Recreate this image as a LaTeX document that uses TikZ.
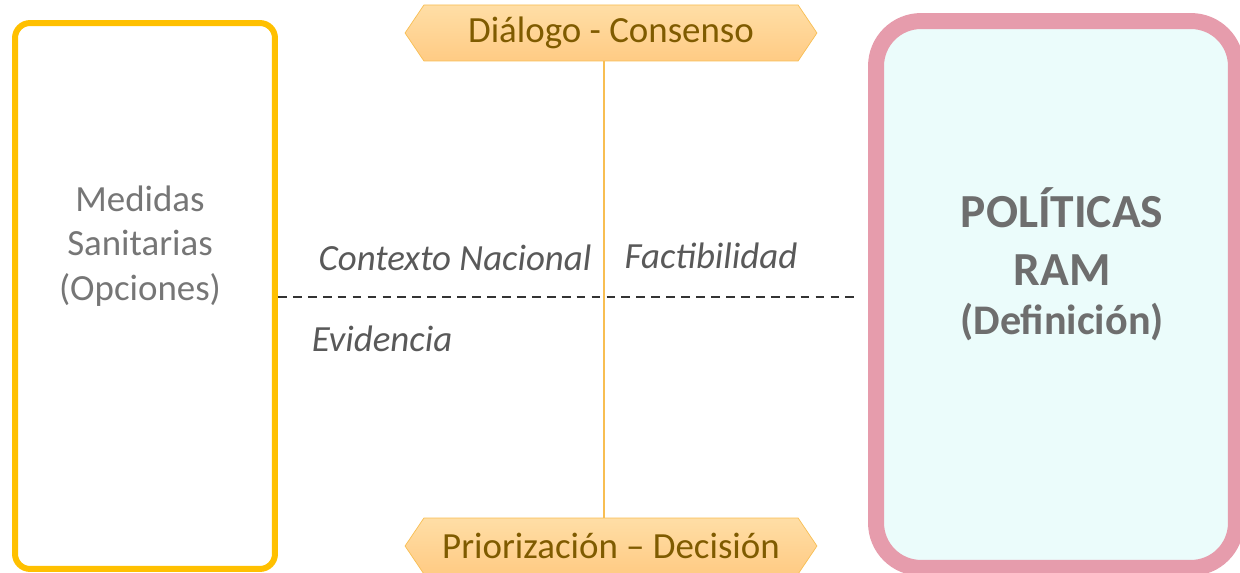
\documentclass[tikz,border=0pt]{standalone}
\usepackage{fontspec}
\setmainfont{Carlito}
\usetikzlibrary{shapes.symbols}
\definecolor{amarillo}{HTML}{FFC000}
\definecolor{rosa}{HTML}{E69CAC}
\definecolor{celeste}{HTML}{EBFCFB}
\definecolor{naranja}{HTML}{F8BE52}
\definecolor{marron}{HTML}{7F5B00}
\definecolor{gris}{HTML}{767676}
\tikzset{
  etapa/.style={signal, signal to=west and east, signal pointer angle=112,
    draw=naranja, top color={rgb,255:red,255;green,222;blue,166}, bottom color={rgb,255:red,255;green,203;blue,132},
    minimum width=8.24cm, minimum height=1.12cm, inner sep=0pt,
    text=marron, font=\fontsize{21}{25}\selectfont},
  criterio/.style={text=black!65, font=\itshape\fontsize{21}{25}\selectfont}
}
\begin{document}
\begin{tikzpicture}[x=0.02cm, y=-0.02cm]
            \useasboundingbox (0,0) rectangle (1240,573);
            % cajas laterales
            \node[draw=amarillo, line width=0.12cm, rounded corners=0.3cm, inner sep=0pt,
                minimum width=5.2cm, minimum height=10.92cm] (opciones) at (145,296) {};
            \node[draw=rosa, fill=celeste, line width=0.32cm, rounded corners=0.9cm, inner sep=0pt,
                minimum width=7.2cm, minimum height=10.94cm] (ram) at (1056,294.5) {};

            \node[align=center, text=gris, font=\fontsize{21}{25.5}\selectfont] (medidas) at (140,246)
                {Medidas\\Sanitarias\\(Opciones)};
            \node[align=center, text=black!57, font=\bfseries\fontsize{27}{33}\selectfont] (politicas) at (1062,237)
                {POLÍTICAS\\RAM};
            \node[text=black!57, font=\bfseries\fontsize{24}{28}\selectfont] (definicion) at (1062,322)
                {(Definición)};

            % etapas
            \node[etapa] (dialogo) at (611,33) {Diálogo - Consenso};
            \node[etapa] (priorizacion) at (611,546) {Priorización – Decisión};
            \draw[naranja, line width=1.1pt] ([xshift=-0.14cm]dialogo.south) -- ([xshift=-0.14cm]priorizacion.north);

            \coordinate (fin) at (858,297);
            \draw[black!80, dash pattern=on 5pt off 3.5pt, line width=0.9pt] (opciones.east |- fin) -- (fin);

            \node[criterio] (contexto) at (455,258) {Contexto Nacional};
            \node[criterio] (factibilidad) at (711,256) {Factibilidad};
            \node[criterio] (evidencia) at (382,339) {Evidencia};
        \end{tikzpicture}
\end{document}
